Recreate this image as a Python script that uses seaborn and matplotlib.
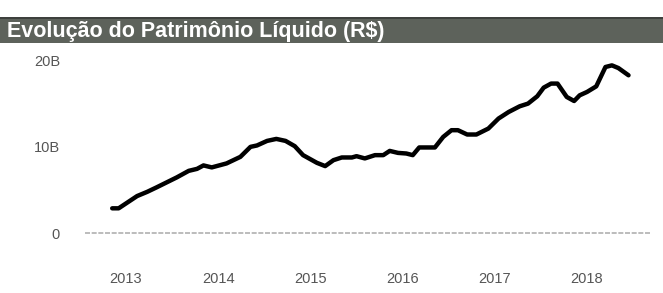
import numpy as np
import pandas as pd
import matplotlib
matplotlib.use("Agg")
import matplotlib.pyplot as plt
import seaborn as sns
from matplotlib.patches import Rectangle

# Valores (ano decimal, bilhões de R$)
anos = [2012.85, 2012.92, 2013.12, 2013.23, 2013.33, 2013.55, 2013.68, 2013.77,
        2013.84, 2013.93, 2014.09, 2014.24, 2014.35, 2014.42, 2014.53, 2014.63,
        2014.73, 2014.83, 2014.92, 2015.07, 2015.16, 2015.25, 2015.34, 2015.45,
        2015.50, 2015.59, 2015.70, 2015.79, 2015.86, 2015.95, 2016.04, 2016.11,
        2016.18, 2016.35, 2016.44, 2016.53, 2016.60, 2016.70, 2016.80, 2016.93,
        2017.04, 2017.15, 2017.27, 2017.36, 2017.46, 2017.53, 2017.61, 2017.68,
        2017.78, 2017.86, 2017.92, 2018.00, 2018.10, 2018.20, 2018.27, 2018.34,
        2018.45]
patrimonio = [2.86, 2.86, 4.28, 4.77, 5.28, 6.44, 7.20, 7.43,
              7.83, 7.60, 8.06, 8.82, 9.98, 10.14, 10.67, 10.90,
              10.67, 10.06, 9.02, 8.13, 7.75, 8.44, 8.75, 8.75,
              8.90, 8.64, 9.02, 9.02, 9.51, 9.28, 9.21, 9.02,
              9.91, 9.91, 11.13, 11.91, 11.91, 11.41, 11.41, 12.10,
              13.26, 14.02, 14.68, 14.99, 15.84, 16.84, 17.31, 17.31,
              15.76, 15.29, 15.95, 16.34, 16.99, 19.23, 19.42, 19.11,
              18.27]

anos_ticks = [2013, 2014, 2015, 2016, 2017, 2018]
y_ticks = [0, 10, 20]
y_labels = ["0", "10B", "20B"]
titulo = "Evolução do Patrimônio Líquido (R$)"

df = pd.DataFrame({"ano": anos, "pl": patrimonio})

sns.set_theme(style="white")
plt.rcParams["font.family"] = ["Liberation Sans", "DejaVu Sans"]

fig = plt.figure(figsize=(6.63, 2.93), dpi=100)
W, H = 663, 293

# faixa do título
fig.patches.append(Rectangle((0, 1 - 43 / H), 1, 26 / H, transform=fig.transFigure,
                             facecolor="#5d625b", edgecolor="none", zorder=0))
fig.patches.append(Rectangle((0, 1 - 19 / H), 1, 2 / H, transform=fig.transFigure,
                             facecolor="#3e403d", edgecolor="none", zorder=1))
fig.text(7 / W, 1 - 31 / H, titulo, color="white", fontsize=15.5, fontweight="bold",
         va="center", ha="left")

ax = fig.add_axes([85 / W, 53 / H, 565 / W, 190 / H])
sns.lineplot(data=df, x="ano", y="pl", sort=False, color="black", linewidth=3.2,
             ax=ax, solid_capstyle="round", solid_joinstyle="round")
ax.axhline(0, color="#b0b0b0", linewidth=1.2, linestyle=(0, (3, 1)), zorder=0)

ax.set_xlim(2012.555, 2018.683)
ax.set_ylim(-0.81, 21.2)
ax.set_xticks(anos_ticks)
ax.set_xticklabels([str(a) for a in anos_ticks])
ax.set_yticks(y_ticks)
ax.set_yticklabels(y_labels)
ax.tick_params(axis="x", length=0, pad=23, labelsize=10.5, labelcolor="#555555")
ax.tick_params(axis="y", length=0, pad=18, labelsize=10.5, labelcolor="#555555")
ax.set_xlabel("")
ax.set_ylabel("")
sns.despine(ax=ax, left=True, bottom=True)

fig.savefig("out.png", dpi=100)
